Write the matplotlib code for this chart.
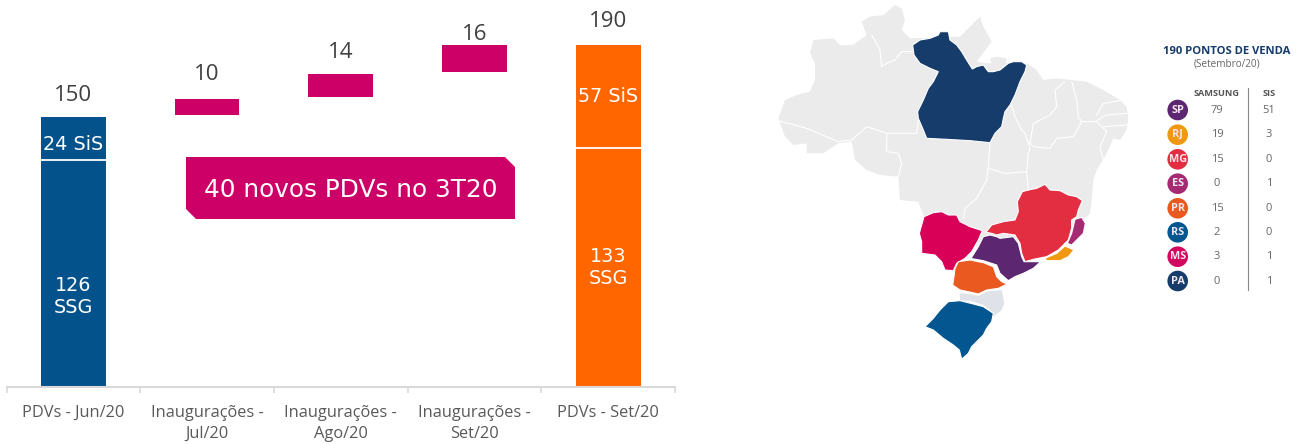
import matplotlib
matplotlib.use('Agg')
import numpy as np
from matplotlib import pyplot as plt
from matplotlib.patches import Polygon, Circle

W, H = 1296, 444
PX = 72 / 100  # one pixel in points

# waterfall data
categories = ['PDVs - Jun/20', 'Inaugurações -\nJul/20', 'Inaugurações -\nAgo/20',
              'Inaugurações -\nSet/20', 'PDVs - Set/20']
jun_ssg, jun_sis = 126, 24
set_ssg, set_sis = 133, 57
openings = [10, 14, 16]
totals = [150, 10, 14, 16, 190]
total_offsets = [21.5, 25, 21, 11, 23.5]
callout_text = '40 novos PDVs no 3T20'

# table data
states = ['SP', 'RJ', 'MG', 'ES', 'PR', 'RS', 'MS', 'PA']
samsung = [79, 19, 15, 0, 15, 2, 3, 0]
sis = [51, 3, 0, 1, 0, 0, 1, 1]
state_colors = ['#5C2670', '#F0980F', '#E32E42', '#A62A72', '#EA5A20', '#03568F', '#D4075F', '#163C6B']
row_y = [110, 134.7, 159.3, 183.7, 208.3, 232.3, 256.7, 281]

# map outlines, traced by hand
brazil = [(25, 295), (45, 240), (80, 225), (120, 215), (135, 180), (135, 130), (120, 100), (130, 60), (190, 55),
          (210, 75), (250, 75), (290, 45), (275, 5), (300, -10), (340, -15), (375, -45), (395, -35), (405, 0),
          (395, 30), (420, 55), (570, 50), (630, -10), (640, 20), (665, 65), (620, 125), (650, 130), (770, 130),
          (800, 150), (820, 180), (860, 175), (905, 180), (950, 185), (1000, 210), (1050, 240), (1070, 260),
          (1075, 290), (1070, 330), (1050, 360), (1030, 355), (1010, 400), (980, 450), (970, 480), (965, 540),
          (960, 580), (940, 600), (800, 680), (650, 680), (520, 680), (460, 585), (445, 545), (390, 540),
          (385, 470), (330, 465), (290, 450), (255, 420), (245, 365), (205, 370), (160, 400), (110, 400),
          (110, 370), (70, 375), (45, 350)]
marajo = [(660, 115), (680, 110), (710, 115), (705, 145), (670, 145)]
para = [(428, 75), (450, 60), (480, 55), (505, 45), (510, 35), (535, 35), (540, 60), (560, 75), (575, 95), (590, 120),
        (607, 147), (620, 140), (640, 135), (655, 155), (670, 155), (690, 150), (715, 130), (730, 125), (755, 125),
        (770, 135), (765, 155), (750, 185), (735, 225), (720, 255), (705, 275), (700, 295), (695, 320), (675, 340),
        (660, 368), (600, 362), (530, 358), (470, 355), (460, 330), (445, 295), (443, 275), (460, 240), (475, 205),
        (490, 185), (505, 155), (480, 145), (450, 130), (432, 105)]
minas = [(648, 637), (665, 615), (700, 605), (735, 600), (745, 575), (742, 545), (757, 515), (775, 510), (800, 505),
         (825, 493), (840, 510), (870, 512), (895, 525), (920, 530), (937, 542), (925, 570), (920, 590), (905, 600),
         (905, 625), (895, 660), (880, 675), (865, 690), (830, 710), (790, 718), (765, 725), (755, 700), (750, 670),
         (735, 645), (700, 640), (680, 645), (665, 640)]
sao_paulo = [(605, 712), (625, 680), (640, 650), (660, 645), (680, 650), (690, 655), (730, 650), (745, 670), (755, 710),
             (762, 725), (790, 725), (812, 725), (790, 745), (760, 760), (735, 770), (715, 782), (690, 760), (680, 735),
             (640, 722), (600, 715)]
mato_grosso_sul = [(462, 590), (490, 578), (515, 575), (535, 585), (560, 585), (570, 605), (600, 620), (637, 632),
                   (625, 660), (605, 695), (585, 715), (560, 730), (550, 752), (525, 750), (515, 725), (495, 705),
                   (455, 700), (455, 665), (448, 640), (455, 615)]
parana = [(565, 725), (600, 720), (640, 728), (670, 740), (680, 770), (695, 785), (712, 792), (685, 805), (650, 810),
          (625, 822), (595, 815), (570, 810), (548, 795), (552, 770), (555, 745)]
santa_catarina = [(570, 820), (600, 822), (625, 828), (650, 815), (695, 810), (703, 850), (695, 870), (670, 890),
                  (660, 870), (640, 855), (600, 842), (570, 842)]
rio_sul = [(465, 920), (490, 895), (510, 870), (535, 845), (570, 842), (610, 852), (640, 860), (670, 880), (665, 905),
           (650, 925), (640, 945), (625, 960), (605, 980), (595, 1000), (575, 1018), (568, 990), (550, 975), (520, 955),
           (490, 930)]
lagoa = [(656, 925), (650, 935), (634, 953), (646, 947), (656, 932)]
espirito_santo = [(915, 598), (935, 592), (946, 610), (940, 640), (920, 660), (905, 675), (892, 670), (905, 640)]
rio = [(825, 715), (860, 700), (885, 678), (912, 690), (895, 710), (870, 722), (830, 722)]
borders = [
    [(305, 45), (330, 90), (335, 140), (350, 130), (375, 120), (395, 95), (425, 95)],
    [(25, 302), (110, 325), (205, 365), (245, 360), (290, 320), (350, 340), (440, 340), (445, 300)],
    [(350, 340), (350, 395), (385, 400), (395, 430), (385, 470)],
    [(660, 370), (655, 440), (650, 480), (620, 535), (585, 565), (580, 595)],
    [(655, 445), (705, 460), (770, 455)],
    [(770, 455), (775, 400), (780, 385), (765, 340), (755, 330), (735, 290), (725, 255)],
    [(770, 455), (775, 510)],
    [(780, 370), (790, 310), (840, 285), (860, 260), (855, 210), (885, 185)],
    [(905, 185), (920, 240), (925, 290), (935, 305), (910, 350), (860, 355), (840, 385), (790, 380), (770, 360)],
    [(935, 305), (980, 305), (1010, 335), (990, 380), (1000, 420)],
    [(980, 285), (1000, 250), (1060, 240)],
    [(975, 305), (1010, 285), (1070, 280)],
    [(1000, 320), (1070, 315)],
]

plt.rcParams['font.family'] = ['Open Sans', 'DejaVu Sans']
fig = plt.figure(figsize=(W / 100, H / 100), dpi=100)

# waterfall
ax = fig.add_axes([6.5 / W, (H - 387) / H, 668.5 / W, 387 / H])
x = np.arange(len(categories))
bw = 0.484
ax.bar(x[0], jun_ssg, bw, color='#03528C')
ax.bar(x[0], jun_sis, bw, bottom=jun_ssg, color='#03528C')
ax.bar(x[4], set_ssg, bw, color='#FF6600')
ax.bar(x[4], set_sis, bw, bottom=set_ssg, color='#FF6600')
ax.plot([x[0] - bw / 2, x[0] + bw / 2], [jun_ssg, jun_ssg], color='white', lw=1.3, solid_capstyle='butt')
ax.plot([x[4] - bw / 2, x[4] + bw / 2], [set_ssg, set_ssg], color='white', lw=1.3, solid_capstyle='butt')
base = jun_ssg + jun_sis
for i, v in enumerate(openings):
    # small gap under each step, as in the slide
    ax.bar(x[i + 1], v - 1, bw, bottom=base + 1, color='#CC0066')
    base += v
ax.set_xlim(-0.5, 4.5)
ax.set_ylim(0, 387 / 1.8)
for s in ['top', 'left', 'right']:
    ax.spines[s].set_visible(False)
ax.spines['bottom'].set_color('#D9D9D9')
ax.spines['bottom'].set_linewidth(1.5)
ax.set_yticks([])
ax.set_xticks(np.arange(-0.5, 5), labels=[''] * 6)
ax.tick_params(axis='x', which='major', length=4, width=1.2, color='#D9D9D9')
ax.set_xticks(x, labels=categories, minor=True)
ax.tick_params(axis='x', which='minor', length=0, pad=13, labelsize=11.8, labelcolor='#595959')
for lab in ax.get_xticklabels(minor=True):
    lab.set_linespacing(1.4)

tops = [jun_ssg + jun_sis, jun_ssg + jun_sis + openings[0], jun_ssg + jun_sis + sum(openings[:2]),
        jun_ssg + jun_sis + sum(openings), set_ssg + set_sis]
for i in range(5):
    ax.annotate(str(totals[i]), (x[i], tops[i]), xytext=(0, total_offsets[i] * PX), textcoords='offset points',
                ha='center', va='center', fontsize=16, color='#404040')


def inner(xv, yv, txt, dy=0):
    ax.annotate(txt, (xv, yv), xytext=(0, dy * PX), textcoords='offset points', ha='center', va='center',
                fontsize=13.8, color='white', family='DejaVu Sans', linespacing=1.22)


inner(x[0], jun_ssg + jun_sis / 2, f'{jun_sis} SiS', -5.5)
inner(x[0], jun_ssg / 2, f'{jun_ssg}\nSSG', -23)
inner(x[4], set_ssg + set_sis / 2, f'{set_sis} SiS')
inner(x[4], set_ssg / 2, f'{set_ssg}\nSSG')

# callout and table sit on a pixel overlay
ov = fig.add_axes([0, 0, 1, 1])
ov.set_xlim(0, W)
ov.set_ylim(H, 0)
ov.axis('off')
ov.add_patch(Polygon([(186, 157), (505, 157), (515, 167), (515, 219), (196, 219), (186, 209)], color='#CC0066', lw=0))
ov.text(351, 189.5, callout_text, ha='center', va='center', fontsize=17.8, color='white', family='DejaVu Sans')

# map, coordinates are 3x pixels from (770, 20)
m = fig.add_axes([770 / W, (H - 370) / H, 360 / W, 370 / H])
m.set_xlim(0, 1080)
m.set_ylim(1050, -60)
m.axis('off')
m.add_patch(Polygon(brazil, fc='#EBEBEB', ec='none'))
m.add_patch(Polygon(marajo, fc='#EBEBEB', ec='none'))
for line in borders:
    xs, ys = zip(*line)
    m.plot(xs, ys, color='white', lw=0.8)
m.add_patch(Polygon(santa_catarina, fc='#DFE3E9', ec='none'))
shapes = [(para, '#163C6B'), (minas, '#E32E42'), (sao_paulo, '#5C2670'), (mato_grosso_sul, '#D90057'),
          (parana, '#EA5A20'), (rio_sul, '#03568F'), (espirito_santo, '#A62A72'), (rio, '#F0980F')]
for pts, c in shapes:
    m.add_patch(Polygon(pts, fc=c, ec='white', lw=0.8))
m.add_patch(Polygon(lagoa, fc='white', ec='none'))

# table
ov2 = fig.add_axes([0, 0, 1, 1])
ov2.set_xlim(0, W)
ov2.set_ylim(H, 0)
ov2.set_aspect('equal')
ov2.axis('off')
ov2.text(1227, 51.5, '190 PONTOS DE VENDA', ha='center', va='center', fontsize=8.1, fontweight='bold', color='#163C6B')
ov2.text(1227, 63.5, '(Setembro/20)', ha='center', va='center', fontsize=7.2, color='#666666')
ov2.text(1217, 93, 'SAMSUNG', ha='center', va='center', fontsize=6.6, fontweight='bold', color='#555555')
ov2.text(1269, 93, 'SIS', ha='center', va='center', fontsize=6.6, fontweight='bold', color='#555555')
ov2.plot([1248, 1248], [88, 290], color='#888888', lw=0.8)
for st, a, b, c, y in zip(states, samsung, sis, state_colors, row_y):
    ov2.add_patch(Circle((1177.7, y), 10.3, fc=c, ec='none'))
    ov2.text(1177.7, y, st, ha='center', va='center', fontsize=7.8, fontweight='bold', color='#F3E6EE')
    ov2.text(1217, y, str(a), ha='center', va='center', fontsize=8, color='#666666')
    ov2.text(1269, y, str(b), ha='center', va='center', fontsize=8, color='#666666')

fig.savefig('out.png', dpi=100)
